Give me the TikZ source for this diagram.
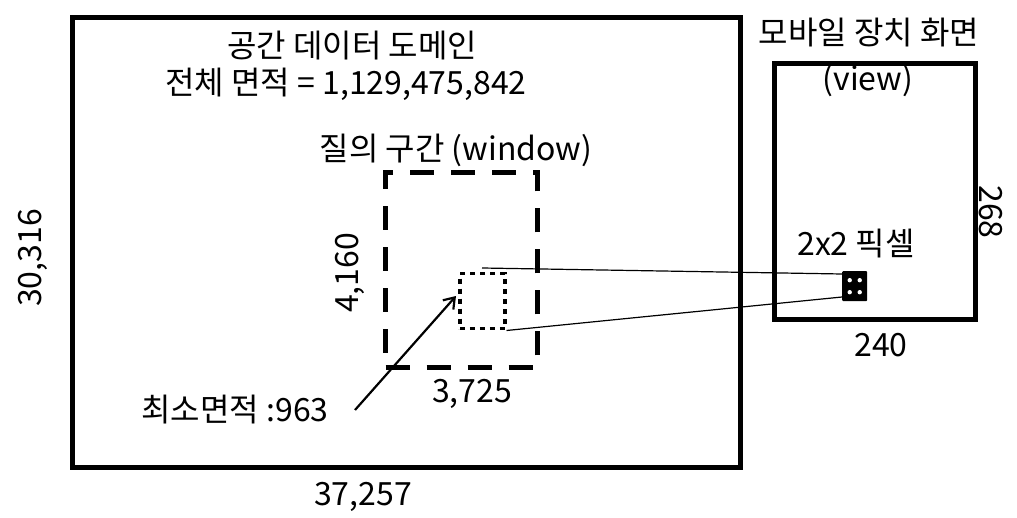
\documentclass[tikz,border=0pt]{standalone}
\usepackage{fontspec}
\setmainfont{Noto Sans CJK KR}
\usetikzlibrary{arrows.meta,calc}
\tikzset{
  lbl/.style={inner sep=0pt, font=\fontsize{32}{34}\selectfont},
  frame/.style={draw=black, line width=5pt},
  winbox/.style={draw=black, line width=5pt, dash pattern=on 24pt off 17pt},
  minbox/.style={draw=black, line width=3.5pt, dash pattern=on 5pt off 5pt},
  thin/.style={draw=black, line width=1.2pt},
}
\begin{document}
\begin{tikzpicture}[x=1pt,y=-1pt]
\useasboundingbox (0,0) rectangle (1017,518);
% domain
\node[frame, minimum width=668pt, minimum height=450pt, inner sep=0pt, anchor=north west] (dom) at (70,15) {};
\node[lbl] (t1) at (352,46) {공간 데이터 도메인};
\node[lbl] (t2) at (346,84) {전체 면적 = 1,129,475,842};
\node[lbl] (wt) at (456,150) {질의 구간 (window)};
\node[winbox, minimum width=152pt, minimum height=195pt, inner sep=0pt, anchor=north west] (win) at (383,170) {};
\node[minbox, minimum width=45pt, minimum height=55pt, inner sep=0pt, anchor=north west] (mb) at (458,272) {};
\node[lbl, rotate=90] (h) at (350,273) {4,160};
\node[lbl] (w) at (472,394) {3,725};
\node[lbl] (ma) at (235,410) {최소면적 :963};
\node[lbl, rotate=90] (dh) at (33,258) {30,316};
\node[lbl] (dw) at (363,497) {37,257};
\coordinate (as) at (355,410);
\coordinate (ae) at (456,296);
\draw[line width=2.2pt, -{Straight Barb[length=10pt,width=14pt]}] (as) -- (ae);
% mobile
\node[lbl] (mt) at (869,33) {모바일 장치 화면};
\node[frame, minimum width=201pt, minimum height=256pt, inner sep=0pt, anchor=north west] (mob) at (772,61) {};
\node[lbl] (vw) at (868,81) {(view)};
\node[lbl, rotate=-90] (mh) at (991,212) {268};
\node[lbl] (mw) at (881,345) {240};
\node[lbl] (px) at (856,244) {2x2 픽셀};
\node[fill=black, minimum width=25pt, minimum height=30pt, inner sep=0pt, anchor=north west, rounded corners=1pt] (pix) at (842,271) {};
\foreach \dx/\dy in {-5/-6,5/-6,-5/6,5/6}{
  \fill[white] ($(pix.center)+(\dx,\dy)$) circle (2.2pt);
}
\coordinate (l1) at (482,268);
\draw[thin] (l1) -- (pix.north west |- 0,274);
\draw[thin] (mb.south east) -- (pix.south west |- 0,297);
\end{tikzpicture}
\end{document}
